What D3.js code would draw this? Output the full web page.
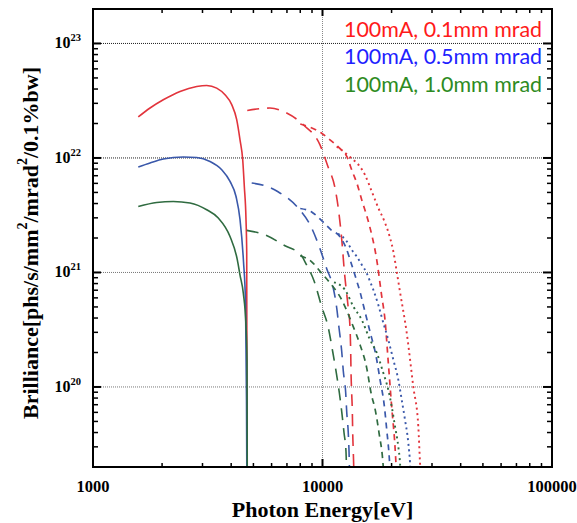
<!DOCTYPE html>
<html><head><meta charset="utf-8">
<script src="https://cdn.jsdelivr.net/npm/d3@7"></script>
<style>
body{margin:0;background:#fff;}
svg{display:block;}
</style>
</head><body>
<svg id="chart" width="577" height="523"></svg>
<script>
// ---------- data ----------
const xTicks = [1000, 10000, 100000];
const xTickLabels = ["1000", "10000", "100000"];
const yTicks = [1e20, 1e21, 1e22, 1e23];
const yTickExps = ["20", "21", "22", "23"];
const gridX = [10000];
const legendLabels = ["100mA, 0.1mm mrad", "100mA, 0.5mm mrad", "100mA, 1.0mm mrad"];

// 0.1 mm mrad (red)
const red1 = [[1575,2.28e22],[1772,2.73e22],[2024,3.22e22],[2394,3.81e22],[2831,4.21e22],[3129,4.30e22],[3459,4.07e22],[3760,3.56e22],[4022,2.92e22],[4228,2.16e22],[4371,1.44e22],[4491,9.64e21],[4564,5.64e21],[4642,2.88e21],[4675,1.49e21],[4690,1.9e19]];
const red3 = [[4700,2.60e22],[5904,2.73e22],[6982,2.47e22],[8250,1.95e22],[9752,1.30e22],[10570,8.38e21],[11330,5.49e21],[11740,3.53e21],[12220,1.64e21],[12410,1.10e21],[12660,7.35e20],[12920,5.12e20],[13180,3.29e20],[13270,2.03e20],[13310,1.38e20],[13400,8.90e19],[13490,6.07e19],[13540,3.98e19],[13620,2.72e19],[13690,1.9e19]];
const red5 = [[8000,1.98e22],[9851,1.66e22],[10780,1.44e22],[11800,1.23e22],[12790,1.02e22],[13450,7.73e21],[14140,5.96e21],[14860,4.23e21],[15630,3.07e21],[16430,2.09e21],[16930,1.58e21],[17360,1.17e21],[17720,8.63e20],[18080,6.38e20],[18720,3.86e20],[19350,1.63e20],[20020,6.72e19],[20700,3.00e19],[20970,1.9e19]];
const red7 = [[11530,1.26e22],[13180,1.02e22],[14570,8.38e21],[15310,7.13e21],[16390,5.10e21],[17500,3.67e21],[18720,2.72e21],[19690,2.01e21],[20350,1.53e21],[21050,1.02e21],[21760,6.78e20],[23280,2.97e20],[24860,1.01e20],[26150,4.52e19],[26600,2.18e19],[26700,1.9e19]];

// 0.5 mm mrad (blue)
const blue1 = [[1575,8.33e21],[1772,9.03e21],[2024,9.78e21],[2475,1.02e22],[2831,1.01e22],[3235,9.32e21],[3638,7.89e21],[3954,6.24e21],[4200,4.61e21],[4371,2.90e21],[4527,1.24e21],[4620,5.40e20],[4665,7.70e19],[4680,1.9e19]];
const blue3 = [[4915,6.04e21],[5616,5.72e21],[6400,5.07e21],[7820,3.67e21],[8912,2.51e21],[9752,1.61e21],[10430,1.08e21],[11110,7.50e20],[11530,4.92e20],[11800,3.29e20],[12130,2.03e20],[12320,1.38e20],[12620,8.90e19],[12750,6.07e19],[12950,3.98e19],[13050,2.72e19],[13110,1.9e19]];
const blue5 = [[8000,3.62e21],[9001,3.36e21],[10000,2.79e21],[10890,2.36e21],[11920,2.05e21],[12660,1.64e21],[13400,1.17e21],[14090,8.46e20],[14570,6.78e20],[15090,5.12e20],[16110,3.03e20],[17070,1.91e20],[17810,1.16e20],[18570,6.99e19],[19050,4.23e19],[19530,2.46e19],[19690,1.9e19]];
const blue7 = [[11680,2.18e21],[12750,1.87e21],[13400,1.58e21],[14090,1.38e21],[14820,1.17e21],[15580,9.88e20],[16110,8.35e20],[16650,7.06e20],[17500,5.22e20],[18400,3.64e20],[19350,2.58e20],[20350,1.73e20],[21390,1.16e20],[22140,7.73e19],[22880,5.17e19],[23650,3.26e19],[24060,2.18e19],[24150,1.9e19]];

// 1.0 mm mrad (green)
const green1 = [[1575,3.77e21],[1895,4.09e21],[2238,4.17e21],[2647,4.04e21],[3129,3.53e21],[3515,2.99e21],[3954,2.06e21],[4255,1.29e21],[4371,9.50e20],[4518,6.60e20],[4642,3.40e20],[4690,1.70e20],[4700,1.9e19]];
const green3 = [[4675,2.33e21],[5616,2.13e21],[6865,1.71e21],[8061,1.42e21],[8475,1.19e21],[9183,8.46e20],[9920,5.02e20],[10600,3.29e20],[11080,2.03e20],[11450,1.38e20],[11840,8.90e19],[12130,6.07e19],[12410,3.98e19],[12660,2.72e19],[12720,1.9e19]];
const green5 = [[8000,1.40e21],[8974,1.24e21],[9851,1.00e21],[10675,8.30e20],[12130,5.77e20],[13400,3.64e20],[14570,2.34e20],[15580,1.47e20],[16240,9.08e19],[17070,5.95e19],[17630,3.98e19],[18260,2.41e19],[18440,1.9e19]];
const green7 = [[11220,8.20e20],[12530,7.06e20],[13620,5.05e20],[14820,3.86e20],[16110,2.58e20],[17230,1.99e20],[18400,1.33e20],[19350,9.46e19],[20020,6.76e19],[20700,4.52e19],[21390,3.02e19],[21760,2.18e19],[21850,1.9e19]];

// ---------- styling / layout ----------
const RED = "#e2343c", BLUE = "#3a58aa", GREEN = "#2f6b40";
const legendColors = ["#ff1a1a", "#1f1fff", "#2e8b22"];
const STYLE = {
  solid: {dash: null, w: 1.6},
  long: {dash: "12,8", w: 1.6},
  medium: {dash: "6,5", w: 1.7},
  dot: {dash: "2,3.5", w: 1.9}
};
const series = [
  {d: red1, c: RED, s: STYLE.solid}, {d: blue1, c: BLUE, s: STYLE.solid}, {d: green1, c: GREEN, s: STYLE.solid},
  {d: red3, c: RED, s: STYLE.long}, {d: blue3, c: BLUE, s: STYLE.long}, {d: green3, c: GREEN, s: STYLE.long},
  {d: red5, c: RED, s: STYLE.medium}, {d: blue5, c: BLUE, s: STYLE.medium}, {d: green5, c: GREEN, s: STYLE.medium},
  {d: red7, c: RED, s: STYLE.dot}, {d: blue7, c: BLUE, s: STYLE.dot}, {d: green7, c: GREEN, s: STYLE.dot}
];

const L = 93, R = 552, T = 9, B = 467;
const serif = "'Liberation Serif','Times New Roman',serif";

const svg = d3.select("#chart");
const x = d3.scaleLog().domain([1000, 100000]).range([L, R]);
const y = d3.scaleLog().domain([2e19, 2e23]).range([B, T]);

svg.append("defs").append("clipPath").attr("id", "clip")
  .append("rect").attr("x", L).attr("y", T).attr("width", R - L).attr("height", B - T);

// grid
const grid = svg.append("g");
grid.selectAll("line.h").data(yTicks).join("line")
  .attr("x1", L).attr("x2", R).attr("y1", d => y(d)).attr("y2", d => y(d))
  .attr("stroke", d => d >= 1e22 ? "#222" : "#777").attr("stroke-width", 1).attr("stroke-dasharray", "1,1");
grid.selectAll("line.v").data(gridX).join("line")
  .attr("y1", T).attr("y2", B).attr("x1", d => x(d)).attr("x2", d => x(d))
  .attr("stroke", "#888").attr("stroke-width", 1).attr("stroke-dasharray", "1,1");

// curves
const line = d3.line().x(d => x(d[0])).y(d => y(d[1])).curve(d3.curveMonotoneX);
const curves = svg.append("g").attr("clip-path", "url(#clip)");
series.forEach(sr => {
  curves.append("path").attr("d", line(sr.d)).attr("fill", "none")
    .attr("stroke", sr.c).attr("stroke-width", sr.s.w)
    .attr("stroke-dasharray", sr.s.dash);
});

// axes (ticks inward on all four sides)
const xMinor = [], yMinor = [];
for (let e = 3; e < 5; e++) for (let k = 2; k <= 9; k++) xMinor.push(k * Math.pow(10, e));
for (let e = 19; e <= 23; e++) for (let k = 2; k <= 9; k++) {
  const v = k * Math.pow(10, e);
  if (v > 2e19 && v < 2e23) yMinor.push(v);
}
const axisG = svg.append("g").attr("stroke", "#000");
function hTicks(vals, yy, len, w) {
  axisG.selectAll(null).data(vals).join("line")
    .attr("x1", d => x(d)).attr("x2", d => x(d)).attr("y1", yy).attr("y2", yy + len)
    .attr("stroke-width", w);
}
function vTicks(vals, xx, len, w) {
  axisG.selectAll(null).data(vals).join("line")
    .attr("y1", d => y(d)).attr("y2", d => y(d)).attr("x1", xx).attr("x2", xx + len)
    .attr("stroke-width", w);
}
hTicks(xTicks, B, -8, 2); hTicks(xMinor, B, -4, 1.5);
hTicks(xTicks, T, 7, 2); hTicks(xMinor, T, 4, 1.5);
vTicks(yTicks, L, 8, 2); vTicks(yMinor, L, 5, 1.5);
vTicks(yTicks, R, -9, 2); vTicks(yMinor, R, -5, 1.5);
svg.append("rect").attr("x", L).attr("y", T).attr("width", R - L).attr("height", B - T)
  .attr("fill", "none").attr("stroke", "#000").attr("stroke-width", 2);

// x tick labels
svg.selectAll("text.xt").data(xTicks).join("text")
  .attr("x", d => x(d)).attr("y", 491.5).attr("text-anchor", "middle")
  .style("font-family", serif).style("font-weight", "bold").style("font-size", "16.5px")
  .text((d, i) => xTickLabels[i]);

// y tick labels 10^n
yTicks.forEach((v, i) => {
  const t = svg.append("text").attr("x", 81).attr("y", y(v) + 5).attr("text-anchor", "end")
    .style("font-family", serif).style("font-weight", "bold").style("font-size", "16px");
  t.append("tspan").text("10");
  t.append("tspan").attr("dy", -7).style("font-size", "10.5px").text(yTickExps[i]);
});

// axis titles
svg.append("text").attr("x", (L + R) / 2).attr("y", 516.5).attr("text-anchor", "middle")
  .style("font-family", serif).style("font-weight", "bold").style("font-size", "22px")
  .text("Photon Energy[eV]");

const yt = svg.append("text").attr("transform", "translate(38,243) rotate(-90)")
  .attr("text-anchor", "middle")
  .style("font-family", serif).style("font-weight", "bold").style("font-size", "22px");
const ytParts = [["Brilliance[phs/s/mm", 0], ["2", 1], ["/mrad", 0], ["2", 1], ["/0.1%bw]", 0]];
let up = false;
ytParts.forEach(([txt, sup]) => {
  const ts = yt.append("tspan").text(txt);
  if (sup) { ts.attr("dy", -11).style("font-size", "14px"); up = true; }
  else if (up) { ts.attr("dy", 11); up = false; }
});

// legend
legendLabels.forEach((lab, i) => {
  svg.append("text").attr("x", 542).attr("y", 36.7 + i * 27.5).attr("text-anchor", "end")
    .attr("fill", legendColors[i])
    .attr("textLength", 198).attr("lengthAdjust", "spacingAndGlyphs")
    .style("font-family", "Lato, 'Open Sans', sans-serif").style("font-size", "20.5px")
    .text(lab);
});
</script>
</body></html>
